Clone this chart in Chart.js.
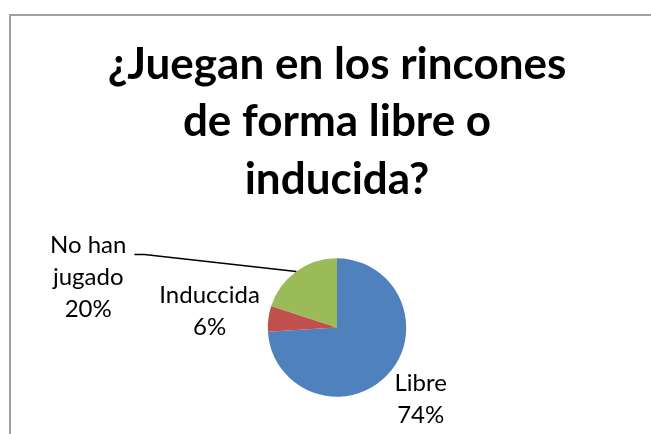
<!DOCTYPE html>
<html>
<head>
<meta charset="utf-8">
<script src="https://cdn.jsdelivr.net/npm/chart.js@4/dist/chart.umd.min.js"></script>
<style>
  html, body { margin: 0; padding: 0; background: #fff; overflow: hidden; }
  body { width: 651px; height: 434px; position: relative; }
  #frame {
    position: absolute; left: 9px; top: 14px; width: 700px; height: 500px;
    border-left: 2px solid #a0a0a0; border-top: 2px solid #a0a0a0;
  }
  #wrap { position: absolute; left: 11px; top: 16px; width: 652px; height: 430px; }
</style>
</head>
<body>
<div id="frame"></div>
<div id="wrap"><canvas id="myChart"></canvas></div>
<script>
const titleLines = ['¿Juegan en los rincones', 'de forma libre o', 'inducida?'];
const categories = ['Libre', 'Induccida', 'No han jugado'];
const labelLines = [['Libre'], ['Induccida'], ['No han', 'jugado']];
const values = [74, 6, 20];
const colors = ['#4F81BD', '#C0504D', '#9BBB59'];

// label block centre relative to pie centre, in radius units (Excel had them moved by hand)
const labelPlace = [
    { dx: 1.21, dy: 1.035 },
    { dx: -1.841, dy: -0.241 },
    { dx: -3.595, dy: -0.723, leader: true }
];

const pieLabels = {
    id: 'pieLabels',
    afterDatasetsDraw(chart) {
        const ctx = chart.ctx;
        const arcs = chart.getDatasetMeta(0).data;
        const total = values.reduce((a, b) => a + b, 0);
        const lh = 32;
        ctx.save();
        ctx.font = '24px Lato';
        ctx.fillStyle = '#000';
        ctx.textAlign = 'center';
        ctx.textBaseline = 'middle';
        arcs.forEach((arc, i) => {
            const { x, y, outerRadius, startAngle, endAngle } = arc.getProps(['x', 'y', 'outerRadius', 'startAngle', 'endAngle'], true);
            const place = labelPlace[i];
            const cx = x + place.dx * outerRadius;
            const cy = y + place.dy * outerRadius;
            const pct = Math.round(values[i] / total * 100) + '%';
            const lines = labelLines[i].concat([pct]);
            const top = cy - (lines.length - 1) * lh / 2;
            let maxW = 0;
            lines.forEach((t, k) => {
                ctx.fillText(t, cx, top + k * lh);
                maxW = Math.max(maxW, ctx.measureText(t).width);
            });
            if (place.leader) {
                const mid = (startAngle + endAngle) / 2;
                const ex = x + Math.cos(mid) * outerRadius;
                const ey = y + Math.sin(mid) * outerRadius;
                const lx = cx + maxW / 2 + 8;
                const ly = top + 9;
                ctx.beginPath();
                ctx.strokeStyle = '#000';
                ctx.lineWidth = 1.5;
                ctx.moveTo(lx, ly);
                ctx.lineTo(lx + 10, ly);
                ctx.lineTo(ex, ey);
                ctx.stroke();
            }
        });
        ctx.restore();
    }
};

new Chart(document.querySelector('#myChart'), {
    type: 'pie',
    data: {
        labels: categories,
        datasets: [{ data: values, backgroundColor: colors, borderWidth: 0 }]
    },
    options: {
        responsive: true,
        maintainAspectRatio: false,
        animation: false,
        layout: { padding: { bottom: 49.3 } },
        plugins: {
            legend: { display: false },
            tooltip: { enabled: false },
            title: {
                display: true,
                text: titleLines,
                color: '#000',
                font: { family: 'Lato', size: 44, weight: 'bold', lineHeight: 57.5 / 44 },
                padding: { top: 20, bottom: 49.8 }
            }
        }
    },
    plugins: [pieLabels]
});
</script>
</body>
</html>
